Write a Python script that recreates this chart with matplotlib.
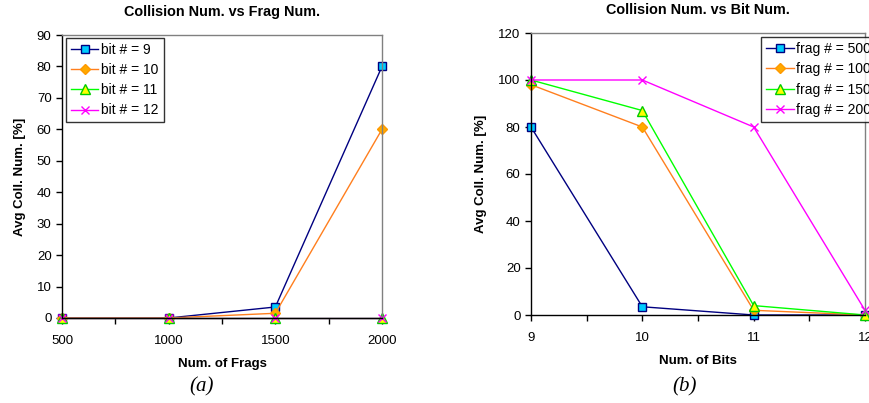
import numpy as np
import matplotlib.pyplot as plt

plt.rcParams['font.family'] = ['Liberation Sans', 'DejaVu Sans']

# panel (a): collision vs fragment count
frags = [500, 1000, 1500, 2000]
bit9 = [0, 0, 3.5, 80]
bit10 = [0, 0, 1.5, 60]
bit11 = [0, 0, 0, 0]
bit12 = [0, 0, 0, 0]

# panel (b): collision vs bit count
bits = [9, 10, 11, 12]
frag500 = [80, 3.5, 0, 0]
frag1000 = [98, 80, 2, 0]
frag1500 = [100, 87, 4, 0]
frag2000 = [100, 100, 80, 2]

styles = [
	dict(color='#000080', marker='s', mfc='#00ccff', mec='#000080', ms=6),
	dict(color='#ff7f1e', marker='D', mfc='#ffaa00', mec='#ff9900', ms=5),
	dict(color='#00ff00', marker='^', mfc='#ffff00', mec='#00cc00', ms=7),
	dict(color='#ff00ff', marker='x', mfc='none', mec='#ff00ff', ms=6),
]

fig = plt.figure(figsize=(8.7, 4.03), dpi=100)

def style_axes(ax):
	for s in ['top', 'right']:
		ax.spines[s].set_color('#808080')
		ax.spines[s].set_linewidth(1.0)
	for s in ['left', 'bottom']:
		ax.spines[s].set_color('black')
		ax.spines[s].set_linewidth(1.0)
	ax.tick_params(axis='both', direction='out', length=4, width=1, labelsize=9.5)
	ax.tick_params(axis='x', pad=8)

ax1 = fig.add_axes([62/870, 1-318/403, 320/870, 283/403])
series_a = [bit9, bit10, bit11, bit12]
labels_a = ['bit # = 9', 'bit # = 10', 'bit # = 11', 'bit # = 12']
for ys, lab, st in zip(series_a, labels_a, styles):
	ax1.plot(frags, ys, lw=1, label=lab, clip_on=False, **st)
ax1.set_xlim(500, 2000)
ax1.set_ylim(0, 90)
ax1.set_xticks(np.arange(500, 2001, 250))
ax1.set_xticklabels(['500', '', '1000', '', '1500', '', '2000'])
ax1.set_yticks(np.arange(0, 91, 10))
style_axes(ax1)
ax1.set_title('Collision Num. vs Frag Num.', fontsize=10.4, fontweight='bold', pad=14)
ax1.set_xlabel('Num. of Frags', fontsize=9.5, fontweight='bold', labelpad=8)
ax1.set_ylabel('Avg Coll. Num. [%]', fontsize=9.5, fontweight='bold', labelpad=8)
leg = ax1.legend(loc='upper left', bbox_to_anchor=(0.012, 0.99), fontsize=10,
	frameon=True, fancybox=False, edgecolor='black', handlelength=2.0,
	borderpad=0.35, labelspacing=0.45, handletextpad=0.2, borderaxespad=0.0)
leg.get_frame().set_linewidth(1.0)

ax2 = fig.add_axes([531/870, 1-315/403, 334/870, 282/403])
series_b = [frag500, frag1000, frag1500, frag2000]
labels_b = ['frag # = 500', 'frag # = 1000', 'frag # = 1500', 'frag # = 2000']
for ys, lab, st in zip(series_b, labels_b, styles):
	ax2.plot(bits, ys, lw=1, label=lab, clip_on=False, **st)
ax2.set_xlim(9, 12)
ax2.set_ylim(0, 120)
ax2.set_xticks(np.arange(9, 12.01, 0.5))
ax2.set_xticklabels(['9', '', '10', '', '11', '', '12'])
ax2.set_yticks(np.arange(0, 121, 20))
style_axes(ax2)
ax2.set_title('Collision Num. vs Bit Num.', fontsize=10.4, fontweight='bold', pad=14)
ax2.set_xlabel('Num. of Bits', fontsize=9.5, fontweight='bold', labelpad=8)
ax2.set_ylabel('Avg Coll. Num. [%]', fontsize=9.5, fontweight='bold', labelpad=8)
leg2 = ax2.legend(loc='upper left', bbox_to_anchor=(230/334, 0.985), fontsize=10,
	frameon=True, fancybox=False, edgecolor='black', handlelength=2.0,
	borderpad=0.35, labelspacing=0.45, handletextpad=0.2, borderaxespad=0.0)
leg2.get_frame().set_linewidth(1.0)

fig.text(202/870, 1-387/403, '(a)', fontsize=15, style='italic',
	family=['Liberation Serif', 'DejaVu Serif'], ha='center', va='center')
fig.text(685/870, 1-387/403, '(b)', fontsize=15, style='italic',
	family=['Liberation Serif', 'DejaVu Serif'], ha='center', va='center')

fig.savefig('out.png', dpi=100)
